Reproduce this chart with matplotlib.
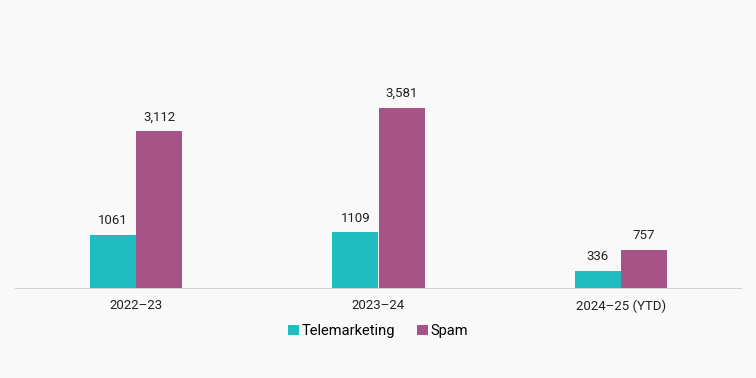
import numpy as np
import matplotlib.pyplot as plt

years = ["2022\u201323", "2023\u201324", "2024\u201325 (YTD)"]
telemarketing = [1061, 1109, 336]
spam = [3112, 3581, 757]
tele_labels = ["1061", "1109", "336"]
spam_labels = ["3,112", "3,581", "757"]

bg = "#f9f9f9"
c_tele = "#1fbdbf"
c_spam = "#a65487"

plt.rcParams['font.family'] = ['Roboto', 'DejaVu Sans']

fig = plt.figure(figsize=(7.56, 3.78), dpi=100, facecolor=bg)
ax = fig.add_axes([15 / 756, 1 - 288 / 378, 727 / 756, 288 / 378])
ax.set_facecolor(bg)

x = np.arange(len(years))
w = 0.19
b1 = ax.bar(x - w / 2, telemarketing, w, color=c_tele, label="Telemarketing", linewidth=0)
b2 = ax.bar(x + w / 2, spam, w, color=c_spam, label="Spam", linewidth=0)

for rect, lab in zip(b1, tele_labels):
    ax.annotate(lab, (rect.get_x() + rect.get_width() / 2, rect.get_height()),
                xytext=(0, 5.5), textcoords="offset points", ha="center", va="bottom",
                fontsize=9.5, color="#222222")
for rect, lab in zip(b2, spam_labels):
    ax.annotate(lab, (rect.get_x() + rect.get_width() / 2, rect.get_height()),
                xytext=(0, 5.5), textcoords="offset points", ha="center", va="bottom",
                fontsize=9.5, color="#222222")

ax.set_xlim(-0.5, 2.5)
ax.set_ylim(0, 5725)
ax.set_xticks(x)
ax.set_xticklabels(years, fontsize=9.5, color="#222222")
ax.tick_params(axis="x", length=0, pad=8)
ax.set_yticks([])
for s in ["top", "right", "left"]:
    ax.spines[s].set_visible(False)
ax.spines["bottom"].set_color("#d0d0d0")
ax.spines["bottom"].set_linestyle((0, (1, 1)))
ax.spines["bottom"].set_linewidth(0.7)

leg = fig.legend(loc="center", bbox_to_anchor=(378 / 756, 1 - 331 / 378), ncol=2,
                 frameon=False, fontsize=10.5, handlelength=0.75, handleheight=0.75,
                 handletextpad=0.2, columnspacing=1.5)

fig.savefig("out.png", dpi=100, facecolor=bg)
